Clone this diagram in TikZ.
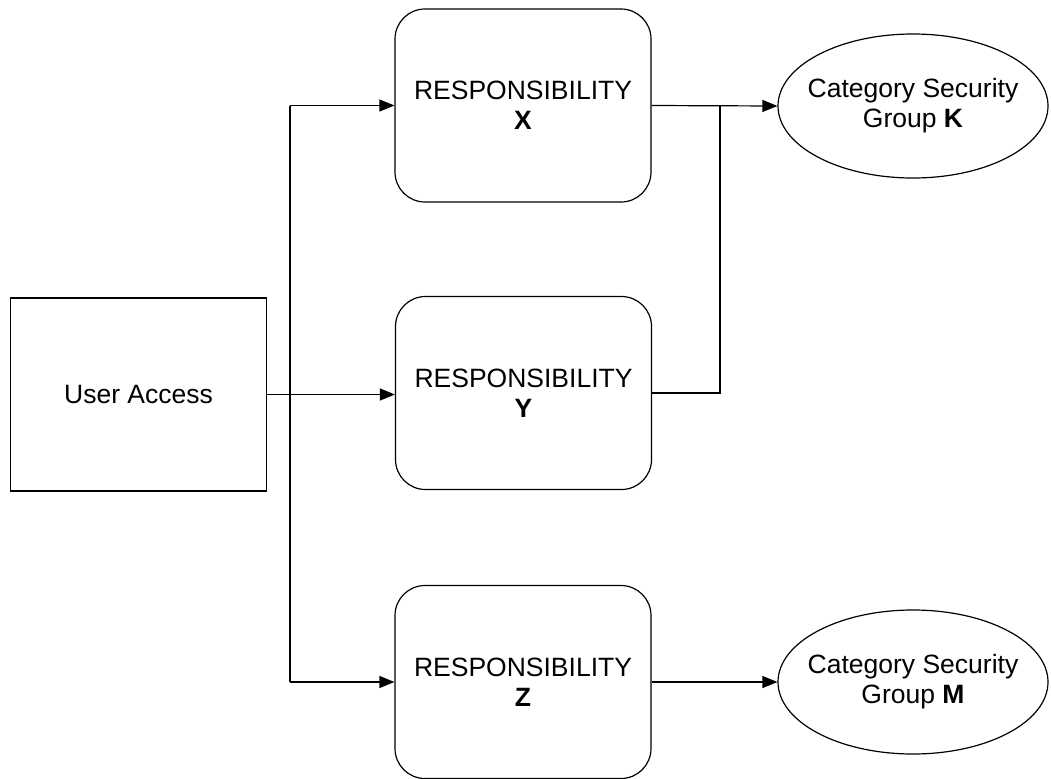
\documentclass[tikz,border=0pt]{standalone}
\usepackage{fontspec}
\setmainfont{Liberation Sans}
\usetikzlibrary{shapes.geometric, arrows.meta, positioning}

\tikzset{
  box/.style={draw, line width=0.6pt, minimum width=128pt, minimum height=96.5pt,
    align=center, inner sep=0pt},
  resp/.style={box, rounded corners=15pt},
  group/.style={draw, ellipse, line width=0.6pt, minimum width=135pt,
    minimum height=72pt, inner sep=0pt},
  wire/.style={line width=0.6pt},
  link/.style={wire, -{Triangle[length=7.5pt,width=6pt]}},
}

\begin{document}
\begin{tikzpicture}[x=0.5pt, y=-0.5pt, font=\fontsize{13.25}{15}\selectfont]
    \useasboundingbox (0,0) rectangle (1051,778);

    % Boxes
    \node[box] (user) at (138.5,394.5) {User Access};
    \node[resp] (respX) at (523,105.5) {RESPONSIBILITY\\\textbf{X}};
    \node[resp] (respY) at (523.5,393) {RESPONSIBILITY\\\textbf{Y}};
    \node[resp] (respZ) at (523,682) {RESPONSIBILITY\\\textbf{Z}};

    % Groups
    \node[group, label={[align=center]center:Category Security\\Group \textbf{K}}]
      (groupK) at (913,106) {};
    \node[group, label={[align=center]center:Category Security\\Group \textbf{M}}]
      (groupM) at (913,682) {};

    \coordinate (fork) at (290,0);
    \coordinate (join) at (720,0);

    % User -> responsibilities
    \draw[link] (user.east) -- (user.east -| respY.west);
    \draw[wire] (fork |- respX.west) -- (fork |- respZ.west);
    \draw[link] (fork |- respX.west) -- (respX.west);
    \draw[link] (fork |- respZ.west) -- (respZ.west);

    % Responsibilities -> groups
    \draw[link] (respX.east) -- (groupK.west);
    \draw[wire] (respY.east) -| (join |- respX.east);
    \draw[link] (respZ.east) -- (groupM.west);
\end{tikzpicture}
\end{document}
